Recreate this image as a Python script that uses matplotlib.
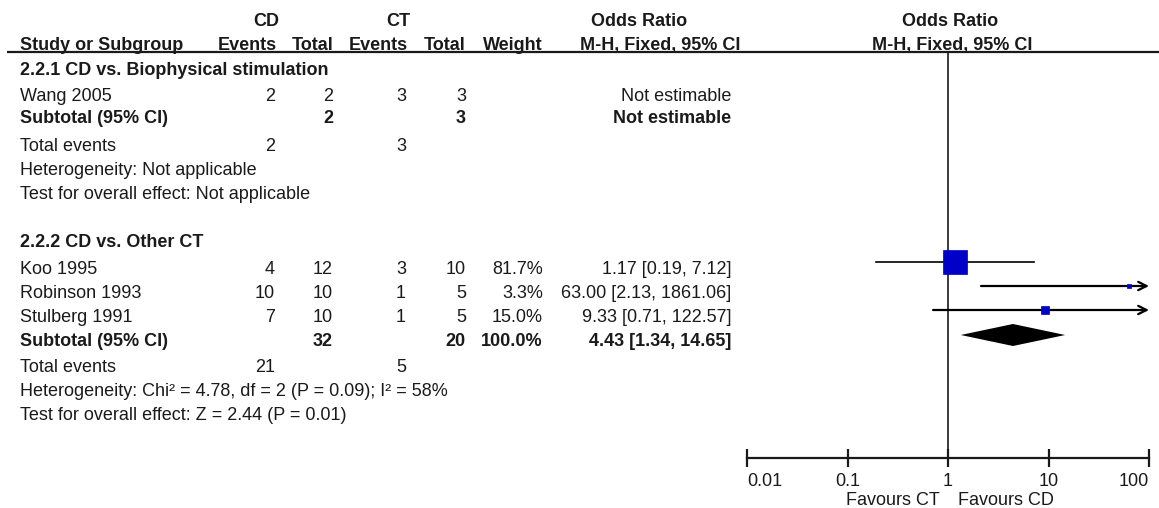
"""
Forest plot: CD vs. CT, odds ratio (M-H, fixed)
"""
import numpy as np
import matplotlib.pyplot as plt

plt.rcParams['font.family'] = ['Liberation Sans', 'DejaVu Sans']

# 2.2.1 CD vs. Biophysical stimulation
g1_title = "2.2.1 CD vs. Biophysical stimulation"
g1_studies = ["Wang 2005"]
g1_cd_events = [2]
g1_cd_total = [2]
g1_ct_events = [3]
g1_ct_total = [3]

# 2.2.2 CD vs. Other CT
g2_title = "2.2.2 CD vs. Other CT"
g2_studies = ["Koo 1995", "Robinson 1993", "Stulberg 1991"]
g2_cd_events = [4, 10, 7]
g2_cd_total = [12, 10, 10]
g2_ct_events = [3, 1, 1]
g2_ct_total = [10, 5, 5]
g2_weight = [81.7, 3.3, 15.0]
g2_or = [1.17, 63.00, 9.33]
g2_lo = [0.19, 2.13, 0.71]
g2_hi = [7.12, 1861.06, 122.57]
g2_pooled = [4.43, 1.34, 14.65]
g2_het = "Heterogeneity: Chi² = 4.78, df = 2 (P = 0.09); I² = 58%"
g2_test = "Test for overall effect: Z = 2.44 (P = 0.01)"

tick_vals = [0.01, 0.1, 1, 10, 100]
tick_labels = ["0.01", "0.1", "1", "10", "100"]

W, H = 1159, 508
fig = plt.figure(figsize=(W / 100, H / 100), dpi=100)
tab = fig.add_axes([0, 0, 1, 1])
tab.set_xlim(0, W)
tab.set_ylim(H, 0)
tab.axis('off')

fs = 13
tc = '#1a1a1a'

def txt(x, y, s, ha='left', bold=False):
    tab.text(x, y, s, ha=ha, va='baseline', fontsize=fs, color=tc,
             fontweight='bold' if bold else 'normal')

# column right edges
x_name = 20
x_cde, x_cdt, x_cte, x_ctt, x_w, x_or = 275, 333, 406, 466, 543, 731

# header
txt(266, 26, "CD", ha='center', bold=True)
txt(398, 26, "CT", ha='center', bold=True)
txt(639, 26, "Odds Ratio", ha='center', bold=True)
txt(950, 26, "Odds Ratio", ha='center', bold=True)
txt(x_name, 50, "Study or Subgroup", bold=True)
txt(x_cde + 2, 50, "Events", ha='right', bold=True)
txt(x_cdt, 50, "Total", ha='right', bold=True)
txt(x_cte + 2, 50, "Events", ha='right', bold=True)
txt(x_ctt, 50, "Total", ha='right', bold=True)
txt(x_w, 50, "Weight", ha='right', bold=True)
txt(740, 50, "M-H, Fixed, 95% CI", ha='right', bold=True)
txt(952, 50, "M-H, Fixed, 95% CI", ha='center', bold=True)
tab.plot([7, W], [52, 52], color=tc, lw=1.6, solid_capstyle='butt')

# subgroup 1
txt(x_name, 75, g1_title, bold=True)
rows1 = [101]
for i, y in enumerate(rows1):
    txt(x_name, y, g1_studies[i])
    txt(x_cde, y, str(g1_cd_events[i]), ha='right')
    txt(x_cdt, y, str(g1_cd_total[i]), ha='right')
    txt(x_cte, y, str(g1_ct_events[i]), ha='right')
    txt(x_ctt, y, str(g1_ct_total[i]), ha='right')
    txt(x_or, y, "Not estimable", ha='right')
txt(x_name, 123, "Subtotal (95% CI)", bold=True)
txt(x_cdt, 123, str(sum(g1_cd_total)), ha='right', bold=True)
txt(x_ctt, 123, str(sum(g1_ct_total)), ha='right', bold=True)
txt(x_or, 123, "Not estimable", ha='right', bold=True)
txt(x_name, 151, "Total events")
txt(x_cde, 151, str(sum(g1_cd_events)), ha='right')
txt(x_cte, 151, str(sum(g1_ct_events)), ha='right')
txt(x_name, 175, "Heterogeneity: Not applicable")
txt(x_name, 199, "Test for overall effect: Not applicable")

# subgroup 2
txt(x_name, 247, g2_title, bold=True)
rows2 = [274, 298, 322]
for i, y in enumerate(rows2):
    txt(x_name, y, g2_studies[i])
    txt(x_cde, y, str(g2_cd_events[i]), ha='right')
    txt(x_cdt, y, str(g2_cd_total[i]), ha='right')
    txt(x_cte, y, str(g2_ct_events[i]), ha='right')
    txt(x_ctt, y, str(g2_ct_total[i]), ha='right')
    txt(x_w, y, f"{g2_weight[i]:.1f}%", ha='right')
    txt(x_or, y, f"{g2_or[i]:.2f} [{g2_lo[i]:.2f}, {g2_hi[i]:.2f}]", ha='right')
txt(x_name, 346, "Subtotal (95% CI)", bold=True)
txt(x_cdt, 346, str(sum(g2_cd_total)), ha='right', bold=True)
txt(x_ctt, 346, str(sum(g2_ct_total)), ha='right', bold=True)
txt(x_w, 346, f"{sum(g2_weight):.1f}%", ha='right', bold=True)
txt(x_or, 346, f"{g2_pooled[0]:.2f} [{g2_pooled[1]:.2f}, {g2_pooled[2]:.2f}]",
    ha='right', bold=True)
txt(x_name, 372, "Total events")
txt(x_cde, 372, str(sum(g2_cd_events)), ha='right')
txt(x_cte, 372, str(sum(g2_ct_events)), ha='right')
txt(x_name, 396, g2_het)
txt(x_name, 420, g2_test)

# forest panel, log scale, y in pixel rows
fx0, fx1, fy0, fy1 = 747, 1149, 52, 458
ax = fig.add_axes([fx0 / W, 1 - fy1 / H, (fx1 - fx0) / W, (fy1 - fy0) / H])
ax.set_xscale('log')
ax.set_xlim(0.01, 100)
ax.set_ylim(fy1, fy0)
ax.patch.set_visible(False)
for s in ['top', 'left', 'right']:
    ax.spines[s].set_visible(False)
ax.spines['bottom'].set_linewidth(1.6)
ax.spines['bottom'].set_color(tc)
ax.set_yticks([])
ax.set_xticks(tick_vals)
ax.set_xticklabels(tick_labels)
ax.minorticks_off()
ax.tick_params(axis='x', direction='inout', length=13, width=1.6, color=tc,
               labelsize=fs, labelcolor=tc, pad=4)
lbls = ax.get_xticklabels()
lbls[0].set_ha('left')
lbls[-1].set_ha('right')

ax.axvline(1, color=tc, lw=1.2, zorder=1)

fy_rows = [262, 286, 310]
for i, y in enumerate(fy_rows):
    lo, hi = g2_lo[i], g2_hi[i]
    if hi > 100:
        ax.annotate('', xy=(100, y), xytext=(lo, y), annotation_clip=False,
                    arrowprops=dict(arrowstyle='->', lw=1.6, color='k',
                                    shrinkA=0, shrinkB=0, mutation_scale=15))
    else:
        ax.plot([lo, hi], [y, y], color='k', lw=1.2, zorder=2)
    side = max(24 * (g2_weight[i] / 81.7) ** 0.7, 4)
    ax.plot(g2_or[i], y, marker='s', ms=side * 0.72, color='#0000c8',
            mec='#0000c8', mew=0.5, zorder=3, clip_on=False)

# pooled diamond
dy = 335
p, plo, phi = g2_pooled
ax.fill([plo, p, phi, p], [dy, dy - 11, dy, dy + 11], color='k', lw=0, zorder=3)

tab.text(940, 505, "Favours CT", ha='right', va='baseline', fontsize=fs, color=tc)
tab.text(958, 505, "Favours CD", ha='left', va='baseline', fontsize=fs, color=tc)

fig.savefig('out.png', dpi=100)
